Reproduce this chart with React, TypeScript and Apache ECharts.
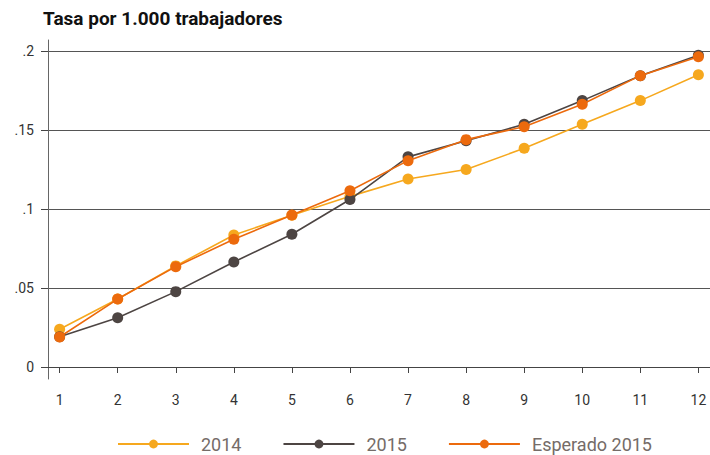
import React, { useEffect, useRef } from "react";
import * as echarts from "echarts";

const months = [1, 2, 3, 4, 5, 6, 7, 8, 9, 10, 11, 12];
const s2014 = [0.0239, 0.043, 0.064, 0.0835, 0.096, 0.108, 0.119, 0.125, 0.1384, 0.1536, 0.1686, 0.185];
const s2015 = [0.0192, 0.0312, 0.0477, 0.0665, 0.084, 0.106, 0.133, 0.1432, 0.1536, 0.1686, 0.1844, 0.1973];
const sEsperado = [0.019, 0.043, 0.0635, 0.0808, 0.0962, 0.1116, 0.1306, 0.1439, 0.1521, 0.1663, 0.1844, 0.1964];
const seriesNames = ["2014", "2015", "Esperado 2015"];
const seriesColors = ["#f6a81e", "#4d4543", "#ec6a0d"];
const yTickLabels: Record<string, string> = { "0": "0", "0.05": ".05", "0.1": ".1", "0.15": ".15", "0.2": ".2" };

export default function App() {
  const ref = useRef<HTMLDivElement>(null);
  useEffect(() => {
    if (!ref.current) return;
    const chart = echarts.init(ref.current, null, { renderer: "svg" });
    const dataSets = [s2014, s2015, sEsperado];
    chart.setOption({
      animation: false,
      title: {
        text: "Tasa por 1.000 trabajadores",
        left: 38,
        top: 4,
        textStyle: { fontFamily: "Roboto", fontSize: 19, fontWeight: "bold", color: "#111" },
      },
      legend: {
        left: 112,
        top: 430,
        itemWidth: 71,
        itemHeight: 11,
        itemGap: 41,
        textStyle: { fontFamily: "Roboto", fontSize: 18, color: "#756c68", padding: [0, 0, 0, 7] },
        data: seriesNames,
      },
      grid: [
        { left: 48, right: 0, top: 51, bottom: 88 },
        { left: 48, right: 0, top: 40, bottom: 76 },
      ],
      xAxis: [
        {
          type: "value",
          gridIndex: 0,
          min: 0.8,
          max: 12.2,
          offset: 12,
          axisLine: { show: true, lineStyle: { color: "#444", width: 1 } },
          axisTick: { show: true, length: 6, customValues: months, lineStyle: { color: "#444" } },
          axisLabel: {
            customValues: months,
            margin: 14,
            fontFamily: "Roboto",
            fontSize: 14,
            color: "#333",
          },
          splitLine: { show: false },
        },
        {
          type: "value",
          gridIndex: 1,
          min: 0,
          max: 1,
          show: false,
        },
      ],
      yAxis: [
        {
          type: "value",
          gridIndex: 0,
          min: 0,
          max: 0.2,
          interval: 0.05,
          axisLine: { show: false },
          axisTick: { show: true, length: 7, lineStyle: { color: "#444" } },
          axisLabel: {
            margin: 14,
            fontFamily: "Roboto",
            fontSize: 14,
            color: "#333",
            formatter: (v: number) => yTickLabels[String(Math.round(v * 100) / 100)] ?? String(v),
          },
          splitLine: { show: true, lineStyle: { color: "#555", width: 1 } },
        },
        {
          type: "value",
          gridIndex: 1,
          min: 0,
          max: 1,
          axisLine: { show: true, lineStyle: { color: "#666", width: 1 } },
          axisTick: { show: false },
          axisLabel: { show: false },
          splitLine: { show: false },
        },
      ],
      series: dataSets.map((d, i) => ({
        name: seriesNames[i],
        type: "line",
        xAxisIndex: 0,
        yAxisIndex: 0,
        data: months.map((m, j) => [m, d[j]]),
        symbol: "circle",
        symbolSize: 11,
        showSymbol: true,
        lineStyle: { color: seriesColors[i], width: 1.6 },
        itemStyle: { color: seriesColors[i] },
        z: 2 + i,
      })),
    });
    return () => chart.dispose();
  }, []);
  return <div ref={ref} style={{ width: 710, height: 455, position: "absolute", left: 0, top: 0 }} />;
}
